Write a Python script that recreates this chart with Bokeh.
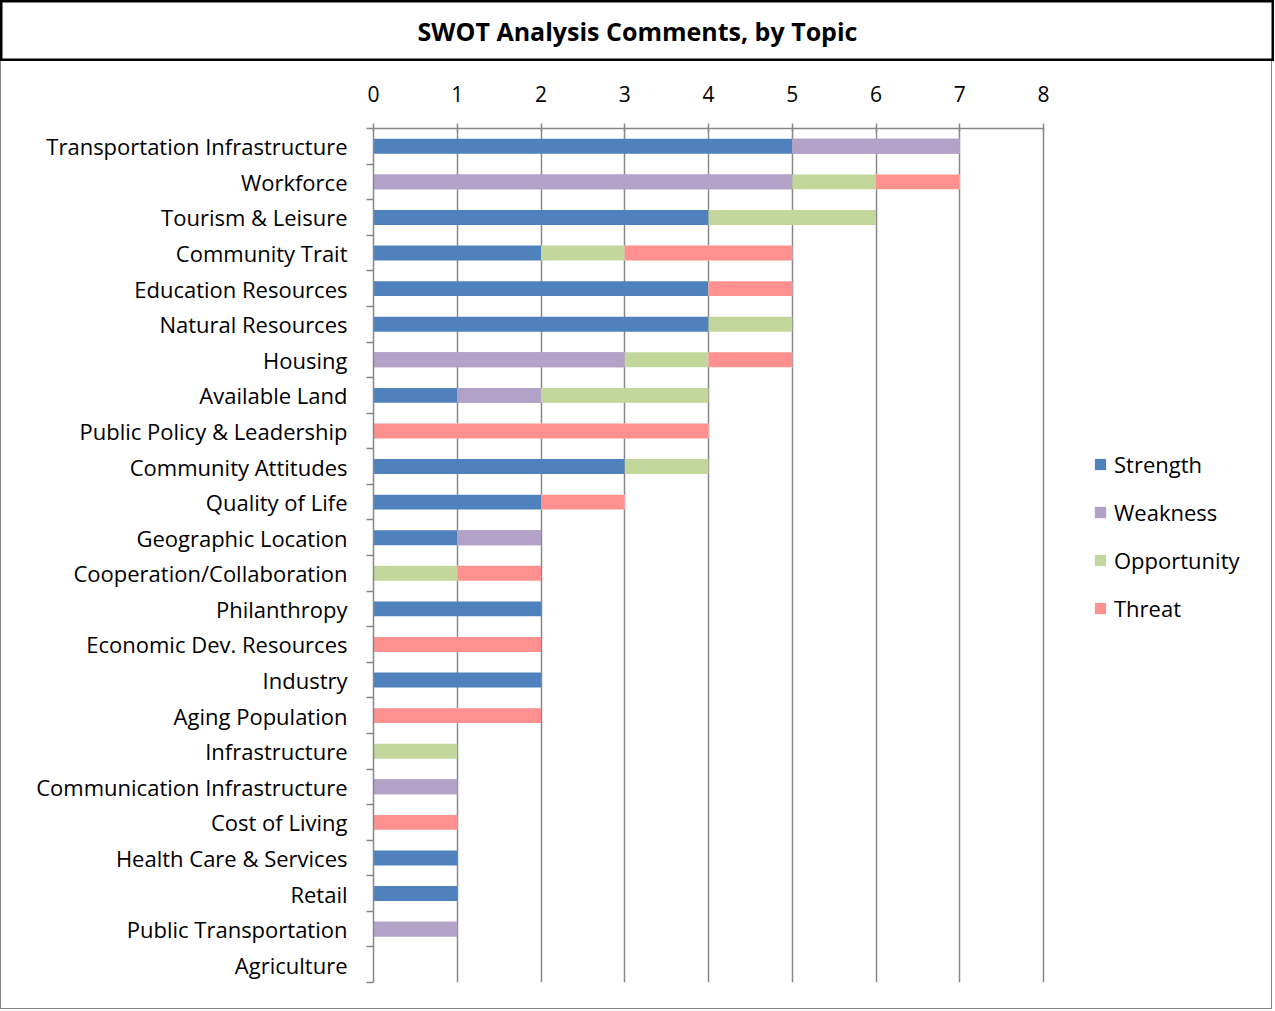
from bokeh.plotting import figure
from bokeh.models import (Range1d, LinearAxis, FixedTicker, CustomJSTickFormatter, Legend,
                          LegendItem, Label, CanvasTexture, ColumnDataSource)
from bokeh.transform import stack
from bokeh.core.properties import value
from bokeh.embed import file_html
from bokeh.resources import INLINE

topics = ["Transportation Infrastructure", "Workforce", "Tourism & Leisure", "Community Trait",
          "Education Resources", "Natural Resources", "Housing", "Available Land",
          "Public Policy & Leadership", "Community Attitudes", "Quality of Life",
          "Geographic Location", "Cooperation/Collaboration", "Philanthropy",
          "Economic Dev. Resources", "Industry", "Aging Population", "Infrastructure",
          "Communication Infrastructure", "Cost of Living", "Health Care & Services",
          "Retail", "Public Transportation", "Agriculture"]
strength = [5, 0, 4, 2, 4, 4, 0, 1, 0, 3, 2, 1, 0, 2, 0, 2, 0, 0, 0, 0, 1, 1, 0, 0]
weakness = [2, 5, 0, 0, 0, 0, 3, 1, 0, 0, 0, 1, 0, 0, 0, 0, 0, 0, 1, 0, 0, 0, 1, 0]
opportunity = [0, 1, 2, 1, 0, 1, 1, 2, 0, 1, 0, 0, 1, 0, 0, 0, 0, 1, 0, 0, 0, 0, 0, 0]
threat = [0, 1, 0, 2, 1, 0, 1, 0, 4, 0, 1, 0, 1, 0, 2, 0, 2, 0, 0, 1, 0, 0, 0, 0]
series = ["Strength", "Weakness", "Opportunity", "Threat"]
x_ticks = [0, 1, 2, 3, 4, 5, 6, 7, 8]
title_text = "SWOT Analysis Comments, by Topic"

FONT = "Open Sans"
GRAY = "#888888"
TW, TH = 1274, 61           # title box
W, H = 1272, 948            # main chart canvas
LEFT, AXIS_W = 372, 670     # axis 0..8 occupies AXIS_W pixels
RIGHT = 2
FRAME_W = W - LEFT - RIGHT  # frame also covers the legend area
TOP, FRAME_H = 67, 854
N = len(topics)
XMAX = x_ticks[-1] * FRAME_W / AXIS_W

# row centres, first topic at the top
ypos = [N - 0.5 - i for i in range(N)]
src = ColumnDataSource(dict(y=ypos, topic=topics, Strength=strength, Weakness=weakness,
                            Opportunity=opportunity, Threat=threat))

# ---- title box
t = figure(width=TW, height=TH, x_range=Range1d(0, 1), y_range=Range1d(0, 1),
           toolbar_location=None, output_backend="svg", min_border=0,
           x_axis_location=None, y_axis_location=None)
t.grid.visible = False
t.outline_line_color = "black"
t.outline_line_width = 4
t.add_layout(Label(x=0.5, y=0.5, text=title_text, text_align="center", text_baseline="middle",
                   text_font=FONT, text_font_style="bold", text_font_size="25px",
                   text_color="black"))

# ---- main chart
p = figure(width=W, height=H, x_range=Range1d(0, XMAX), y_range=Range1d(0, N),
           toolbar_location=None, output_backend="svg", x_axis_location="above",
           y_axis_location=None, min_border_left=LEFT, min_border_right=RIGHT,
           min_border_top=TOP, min_border_bottom=H - TOP - FRAME_H)
p.outline_line_color = None
p.styles = {"border": "1px solid " + GRAY, "border-top": "none"}
p.ygrid.visible = False
p.xgrid.grid_line_color = GRAY
p.xgrid.grid_line_width = 1.5

xa = p.xaxis[0]
xa.ticker = FixedTicker(ticks=x_ticks)
xa.bounds = (x_ticks[0], x_ticks[-1])
xa.axis_line_color = GRAY
xa.axis_line_width = 1.5
xa.major_tick_line_color = GRAY
xa.major_tick_line_width = 1.5
xa.major_tick_out = 5
xa.major_tick_in = 3
xa.minor_tick_line_color = None
xa.major_label_standoff = 22
xa.major_label_text_font = FONT
xa.major_label_text_font_size = "21px"
xa.major_label_text_color = "black"

# boundary ticks (category separators)
tick_axis = LinearAxis(ticker=FixedTicker(ticks=list(range(N + 1))),
                       formatter=CustomJSTickFormatter(code="return ''"))
tick_axis.axis_line_color = GRAY
tick_axis.axis_line_width = 1.5
tick_axis.major_tick_line_color = GRAY
tick_axis.major_tick_line_width = 1.5
tick_axis.major_tick_out = 7
tick_axis.major_tick_in = 0
tick_axis.minor_tick_line_color = None
tick_axis.major_label_standoff = 0
tick_axis.major_label_text_font_size = "0px"
p.add_layout(tick_axis, "left")

# category labels at row centres
label_axis = LinearAxis(ticker=FixedTicker(ticks=ypos),
                        major_label_overrides={y: name for y, name in zip(ypos, topics)})
label_axis.axis_line_color = None
label_axis.major_tick_line_color = None
label_axis.minor_tick_line_color = None
label_axis.major_tick_out = 0
label_axis.major_tick_in = 0
label_axis.major_label_standoff = 19
label_axis.major_label_text_font = FONT
label_axis.major_label_text_font_size = "22px"
label_axis.major_label_text_color = "black"
p.add_layout(label_axis, "left")

checker = CanvasTexture(code="""
const s = scale / 2;
ctx.fillStyle = '#ffffff';
ctx.fillRect(0, 0, scale, scale);
ctx.fillStyle = '#ff0000';
ctx.fillRect(0, 0, s, s);
ctx.fillRect(s, s, s, s);
""")
confetti = CanvasTexture(code="""
const h = scale / 2;
ctx.fillStyle = '#b3a2c7';
ctx.fillRect(0, 0, scale, scale);
ctx.fillStyle = '#ffffff';
ctx.fillRect(3, 3, 4, 4);
ctx.fillRect(3 + h, 3 + h, 4, 4);
""")

styles = {
    "Strength": dict(fill_color="#4F81BD"),
    "Weakness": dict(fill_color="#B3A2C7", hatch_color="white", hatch_pattern=value("confetti"),
                     hatch_extra={"confetti": confetti}, hatch_scale=20),
    "Opportunity": dict(fill_color="#C3D69B"),
    "Threat": dict(fill_color="white", hatch_color="#FF0000", hatch_pattern=value("checker"),
                   hatch_extra={"checker": checker}, hatch_scale=6),
}

items = []
for i, name in enumerate(series):
    r = p.hbar(y="y", left=stack(*series[:i]), right=stack(*series[:i + 1]), height=0.42,
               source=src, line_color=None, **styles[name])
    items.append(LegendItem(label=name, renderers=[r]))

legend = Legend(items=items, location=(AXIS_W + 50, 359), margin=0, padding=0,
                glyph_width=14, glyph_height=14, label_standoff=7, label_height=30, spacing=18,
                label_text_font=FONT, label_text_font_size="22px", label_text_color="black",
                border_line_color=None, background_fill_color=None)
p.add_layout(legend)

open("out.html", "w").write(file_html([t, p], INLINE))
